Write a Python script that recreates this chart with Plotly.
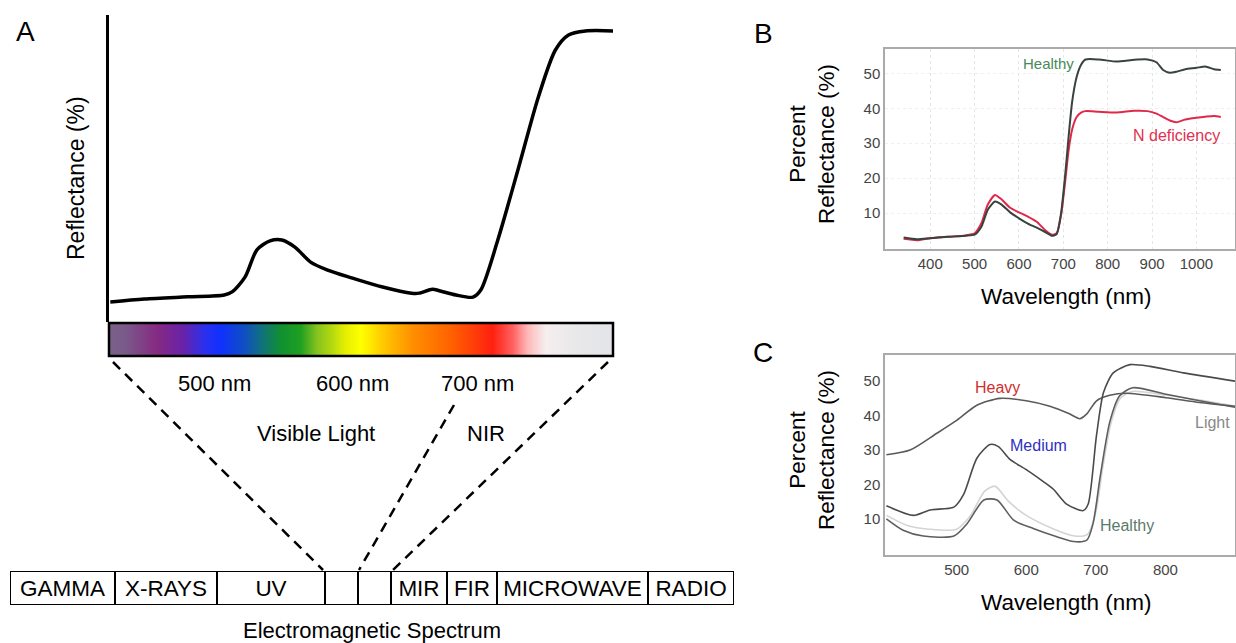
import plotly.graph_objects as go
from itertools import accumulate

W, H = 1236, 643
FONT = "Liberation Sans, Arial, sans-serif"

# ---------------- Panel A: idealised leaf reflectance ----------------
A_WAVELENGTH = [421, 447, 480, 508, 514, 524, 533, 543, 552, 562, 574, 587, 606, 629,
                651, 657, 667, 673, 685, 698, 704, 717, 733, 748, 761, 771, 784, 806]
A_REFLECTANCE = [6.5, 7.5, 8.2, 8.8, 9.8, 14.7, 23.5, 26.4, 26.7, 24.4, 19.5, 16.9, 14.3, 11.4,
                 9.4, 9.4, 10.7, 10.1, 8.8, 8.1, 10.4, 26.7, 50.5, 73.3, 88.6, 93.5, 94.8, 94.8]

# spectrum gradient bar
BAR_NM = list(range(420, 810, 5))
SPECTRUM_SCALE = [
    [0.0, "#7a6088"], [0.03, "#7a5a8a"], [0.095, "#862a82"], [0.145, "#6a22a8"],
    [0.19, "#2a30f0"], [0.22, "#1030ff"], [0.27, "#1050c0"], [0.30, "#107080"],
    [0.34, "#109030"], [0.38, "#20a020"], [0.41, "#80c020"], [0.47, "#e8f000"],
    [0.50, "#ffff00"], [0.54, "#ffcc00"], [0.60, "#ff9000"], [0.68, "#ff6000"],
    [0.76, "#ff2010"], [0.80, "#ff6060"], [0.83, "#ffb8b8"], [0.865, "#f5eeee"],
    [0.93, "#e8e8ea"], [1.0, "#e2e4e8"],
]

# electromagnetic spectrum boxes
EM_LABELS = ["GAMMA", "X-RAYS", "UV", "", "", "MIR", "FIR", "MICROWAVE", "RADIO"]
EM_WIDTHS = [105, 102, 108, 33, 33, 56, 50, 151, 86]

# ---------------- Panel B: healthy vs N deficiency ----------------
B_WAVELENGTH = [340, 370, 400, 440, 480, 500, 515, 530, 546, 560, 580, 600, 620, 640, 660, 675,
                685, 695, 705, 712, 720, 730, 740, 750, 780, 820, 860, 890, 910, 925, 940, 955,
                975, 1000, 1020, 1040, 1055]
B_HEALTHY = [3.0, 2.5, 2.8, 3.2, 3.5, 3.8, 6.0, 11.0, 13.3, 12.5, 10.2, 8.5, 7.0, 5.8, 4.5, 3.5,
             4.0, 10.0, 22.0, 32.0, 42.0, 49.0, 52.5, 54.0, 54.0, 53.4, 53.9, 54.0, 53.2, 51.0,
             50.2, 50.5, 51.2, 51.6, 52.0, 51.2, 51.0]
B_NDEF = [2.6, 2.2, 2.8, 3.2, 3.6, 4.2, 7.0, 12.5, 15.2, 14.0, 11.5, 10.2, 9.0, 7.5, 5.0, 3.8,
          4.2, 9.5, 20.0, 28.0, 34.0, 37.5, 38.8, 39.2, 39.0, 38.8, 39.3, 39.2, 38.5, 37.5,
          36.5, 36.0, 36.8, 37.3, 37.6, 37.8, 37.5]

# ---------------- Panel C: stress levels ----------------
C_HEAVY_WL = [399, 433, 471, 500, 529, 562, 600, 634, 662, 677, 687, 701, 720, 744, 801, 849, 900]
C_HEAVY = [28.6, 30.0, 34.8, 38.6, 43.0, 45.0, 44.3, 42.7, 40.5, 39.1, 40.5, 44.3, 45.9, 46.5,
           45.2, 43.8, 42.7]
C_MEDIUM_WL = [399, 438, 462, 496, 510, 529, 548, 560, 577, 600, 624, 639, 658, 682, 689, 701,
               711, 725, 749, 778, 826, 900]
C_MEDIUM = [13.8, 11.0, 12.6, 13.4, 17.1, 27.6, 31.6, 31.0, 27.2, 24.3, 20.9, 18.6, 14.3, 12.4,
            14.3, 34.3, 46.7, 52.4, 54.8, 54.3, 52.4, 50.0]
C_LIGHT_WL = [399, 430, 460, 500, 520, 540, 555, 575, 600, 640, 670, 688, 700, 710, 722, 735,
              752, 800, 850, 900]
C_LIGHT = [11.0, 8.0, 7.0, 7.0, 11.0, 18.0, 19.5, 15.0, 11.0, 7.0, 5.0, 5.5, 12.0, 25.0, 38.0,
           45.0, 47.0, 46.0, 44.5, 42.8]
C_HEALTHY_WL = [399, 423, 452, 496, 515, 539, 558, 582, 610, 644, 668, 687, 696, 706, 720, 734,
                753, 801, 849, 900]
C_HEALTHY = [10.0, 6.7, 5.0, 5.0, 8.6, 15.5, 15.5, 9.6, 7.2, 4.8, 3.4, 3.8, 8.6, 21.9, 38.1,
             45.7, 48.1, 46.2, 44.3, 42.4]


def px_x(x):
    return x / W


def px_y(y):
    return 1 - y / H


fig = go.Figure()

# Panel A curve
fig.add_trace(go.Scatter(x=A_WAVELENGTH, y=A_REFLECTANCE, mode="lines",
                         line=dict(color="black", width=3.5, shape="spline", smoothing=0.8),
                         xaxis="x", yaxis="y", cliponaxis=False, hoverinfo="skip"))

# Spectrum bar
fig.add_trace(go.Heatmap(x=BAR_NM, y=[0, 1], z=[BAR_NM, BAR_NM], colorscale=SPECTRUM_SCALE,
                         zmin=420, zmax=805, showscale=False, zsmooth="best",
                         xaxis="x2", yaxis="y2", hoverinfo="skip"))

# EM spectrum boxes
EM_BASE = [0] + list(accumulate(EM_WIDTHS))[:-1]
fig.add_trace(go.Bar(x=EM_WIDTHS, base=EM_BASE, y=[0] * len(EM_WIDTHS), orientation="h", width=1,
                     marker=dict(color="white", line=dict(color="black", width=2)),
                     text=EM_LABELS, textposition="inside", insidetextanchor="middle",
                     textfont=dict(size=22.5, color="black", family=FONT), constraintext="none",
                     xaxis="x5", yaxis="y5", hoverinfo="skip"))

# Panel B
fig.add_trace(go.Scatter(x=B_WAVELENGTH, y=B_NDEF, mode="lines",
                         line=dict(color="#e0284a", width=2, shape="spline", smoothing=0.6),
                         xaxis="x3", yaxis="y3", hoverinfo="skip"))
fig.add_trace(go.Scatter(x=B_WAVELENGTH, y=B_HEALTHY, mode="lines",
                         line=dict(color="#38433e", width=2, shape="spline", smoothing=0.6),
                         xaxis="x3", yaxis="y3", hoverinfo="skip"))

# Panel C
for wl, vals, col, wd in [(C_LIGHT_WL, C_LIGHT, "#d4d4d4", 1.6),
                          (C_HEALTHY_WL, C_HEALTHY, "#5c605c", 1.6),
                          (C_HEAVY_WL, C_HEAVY, "#5a5a5a", 1.6),
                          (C_MEDIUM_WL, C_MEDIUM, "#4a4a4a", 1.6)]:
    fig.add_trace(go.Scatter(x=wl, y=vals, mode="lines",
                             line=dict(color=col, width=wd, shape="spline", smoothing=0.7),
                             xaxis="x4", yaxis="y4", hoverinfo="skip"))

hidden = dict(visible=False, showgrid=False, zeroline=False)
tickfont = dict(size=15, color="#444", family=FONT)
box_b = dict(showline=True, mirror=True, linecolor="#aaaaaa", linewidth=1.5, ticks="",
             zeroline=False, tickfont=tickfont)

fig.update_layout(
    width=W, height=H, margin=dict(l=0, r=0, t=0, b=0),
    paper_bgcolor="white", plot_bgcolor="rgba(0,0,0,0)", showlegend=False,
    font=dict(family=FONT, color="black"),
    barmode="overlay",
    xaxis=dict(domain=[px_x(109), px_x(613)], range=[420, 805], anchor="y", **hidden),
    yaxis=dict(domain=[px_y(322), px_y(15)], range=[0, 100], anchor="x", showline=True,
               linecolor="black", linewidth=2.5, showticklabels=False, ticks="",
               showgrid=False, zeroline=False),
    xaxis2=dict(domain=[px_x(109), px_x(613)], range=[420, 805], anchor="y2", **hidden),
    yaxis2=dict(domain=[px_y(356), px_y(323)], range=[0, 1], anchor="x2", **hidden),
    xaxis5=dict(domain=[px_x(10), px_x(734)], range=[0, sum(EM_WIDTHS)], anchor="y5", **hidden),
    yaxis5=dict(domain=[px_y(605), px_y(571)], range=[-0.5, 0.5], anchor="x5", **hidden),
    xaxis3=dict(domain=[px_x(885), px_x(1235)], range=[298, 1087], anchor="y3",
                tickvals=[400, 500, 600, 700, 800, 900, 1000], showgrid=True,
                gridcolor="#e6e6e6", griddash="dot", **box_b),
    yaxis3=dict(domain=[px_y(249), px_y(49)], range=[-0.3, 57], anchor="x3",
                tickvals=[10, 20, 30, 40, 50], showgrid=True, gridcolor="#efefef",
                griddash="dot", **box_b),
    xaxis4=dict(domain=[px_x(885), px_x(1235)], range=[397, 900], anchor="y4",
                tickvals=[500, 600, 700, 800], showgrid=False, **box_b),
    yaxis4=dict(domain=[px_y(555), px_y(355)], range=[-0.5, 57.6], anchor="x4",
                tickvals=[10, 20, 30, 40, 50], showgrid=False, **box_b),
)

# bar border
fig.add_shape(type="rect", xref="x2 domain", yref="y2 domain", x0=0, x1=1, y0=0, y1=1,
              line=dict(color="black", width=2.5))

# dashed connector lines
for (x0, y0, x1, y1) in [(113, 362, 323, 570), (454, 405, 359, 570), (608, 362, 393, 570)]:
    fig.add_shape(type="line", xref="paper", yref="paper",
                  x0=px_x(x0), y0=px_y(y0), x1=px_x(x1), y1=px_y(y1),
                  line=dict(color="black", width=2.5, dash="10px,7px"))


def note(text, x, y, size=22, color="black", **kw):
    fig.add_annotation(text=text, x=px_x(x), y=px_y(y), xref="paper", yref="paper",
                       showarrow=False, xanchor="center", yanchor="middle",
                       font=dict(size=size, color=color, family=FONT), **kw)


note("A", 25, 31, size=28)
note("B", 763, 34, size=28)
note("C", 763, 352, size=28)
note("Reflectance (%)", 76, 178, size=23, textangle=-90)
note("500 nm", 215, 383)
note("600 nm", 352, 383)
note("700 nm", 477, 383)
note("Visible Light", 316, 433)
note("NIR", 486, 433)
note("Electromagnetic Spectrum", 372, 630, size=22)

# panel B/C axis titles
note("Percent<br>Reflectance (%)", 812, 144, size=22.5, textangle=-90)
note("Wavelength (nm)", 1066, 296, size=22.5)
note("Percent<br>Reflectance (%)", 812, 450, size=22.5, textangle=-90)
note("Wavelength (nm)", 1066, 602, size=22.5)


# series labels
def label(text, x, y, xref, yref, color, size=15):
    fig.add_annotation(text=text, x=x, y=y, xref=xref, yref=yref, showarrow=False,
                       font=dict(size=size, color=color, family=FONT))


label("Healthy", 666, 52.9, "x3", "y3", "#4a8a5a")
label("N deficiency", 956, 32.3, "x3", "y3", "#e23050", size=16)
label("Heavy", 559, 48.2, "x4", "y4", "#d03030", size=16)
label("Medium", 617, 31.3, "x4", "y4", "#3030c0", size=16)
label("Healthy", 745, 8.2, "x4", "y4", "#5a7a6a", size=16)
label("Light", 868, 37.9, "x4", "y4", "#888888", size=16)

fig.write_html(
    "out.html",
    config={"displayModeBar": False},
    post_script="document.body.style.margin='0';document.body.style.overflow='hidden';",
)
